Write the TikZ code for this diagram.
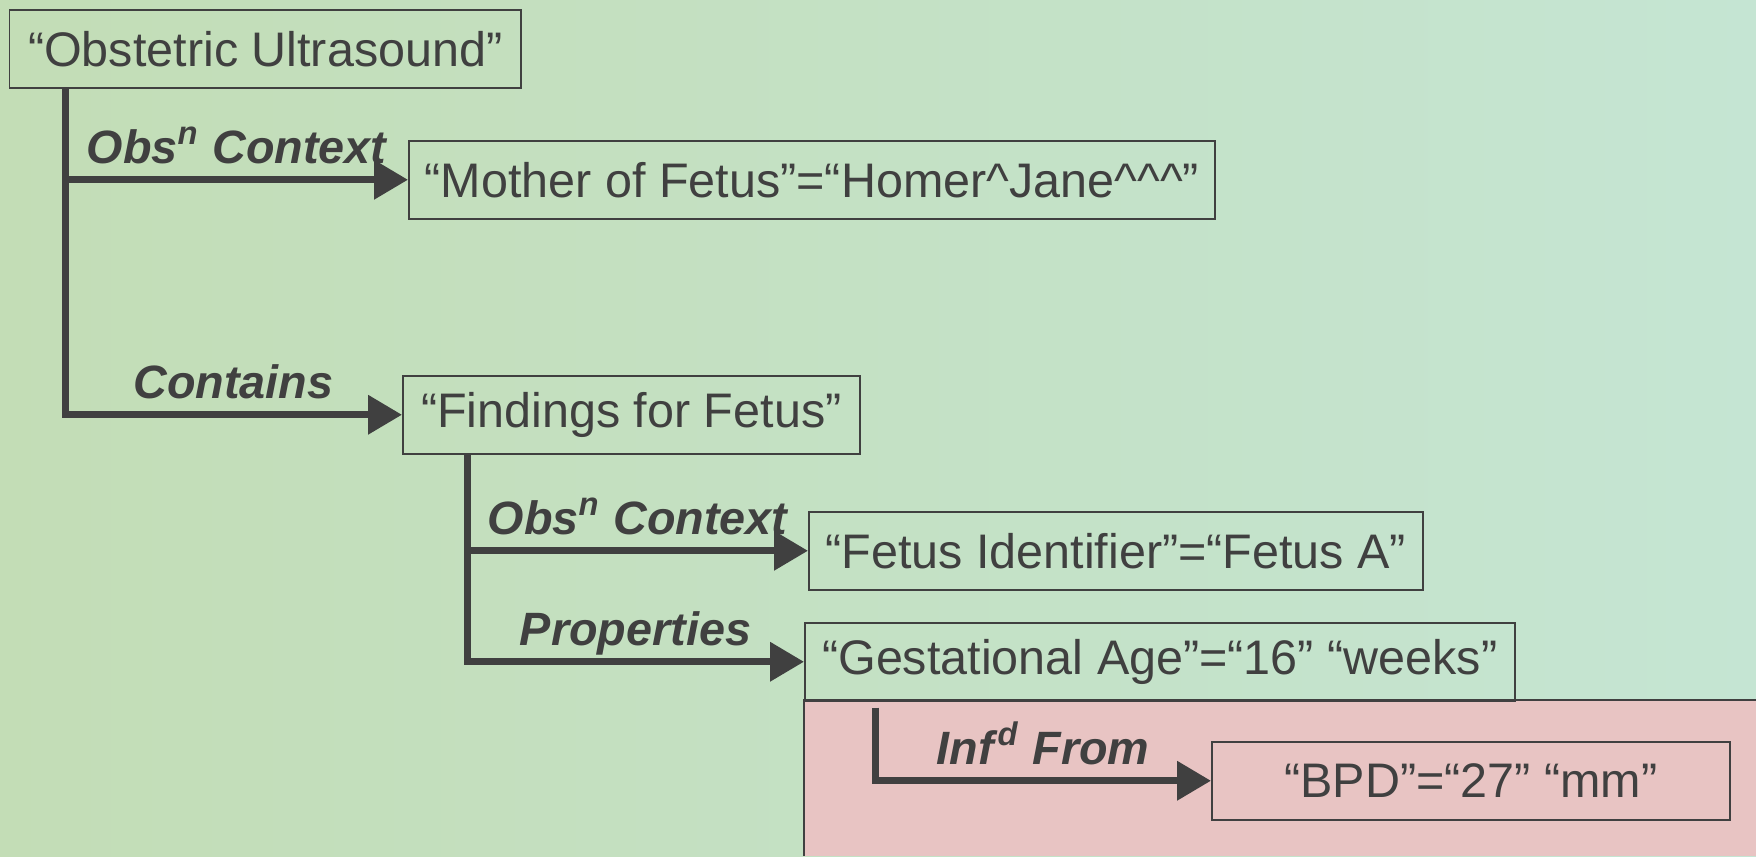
\documentclass[tikz,border=0pt]{standalone}
\usepackage{fontspec}
\setmainfont{Liberation Sans}
\usetikzlibrary{arrows.meta,positioning}
\definecolor{ink}{HTML}{404040}
\definecolor{bgleft}{HTML}{C3DDB6}
\definecolor{bgright}{HTML}{C5E5D3}
\definecolor{pinkbg}{HTML}{E8C4C3}
\tikzset{%
  term/.style={draw=ink,line width=0.15mm,text=ink,minimum height=7.8mm,inner xsep=1.6mm,
    anchor=north west,font=\fontsize{13.8}{16.5}\selectfont},
  link/.style={draw=ink,line width=0.7mm,-{Triangle[length=3.4mm,width=3.8mm]}},
  rel/.style={above,text=ink,text depth=0pt,inner sep=1.3mm,
    font=\fontsize{13.3}{16}\selectfont\bfseries\itshape}
}
\begin{document}
\begin{tikzpicture}[x=0.1mm,y=-0.1mm]

        \useasboundingbox (0,0) rectangle (1756,856);
        \shade[left color=bgleft,right color=bgright] (0,0) rectangle (1756,856); % Background

        % Inferred region
        \fill[pinkbg] (804,700) rectangle (1756,856);
        \draw[ink,line width=0.15mm] (1756,700) -- (804,700) -- (804,856);

        % Content items
        \node[term,minimum width=51.1mm] (US) at (9,9) {“Obstetric Ultrasound”};
        \node[term,minimum width=80.6mm] (Mother) at (408,140) {“Mother of Fetus”=“Homer\textasciicircum Jane\textasciicircum\textasciicircum\textasciicircum”};
        \node[term,minimum width=45.7mm] (Find) at (402,375) {“Findings for Fetus”};
        \node[term,minimum width=61.4mm] (FetID) at (808,511) {“Fetus Identifier”=“Fetus A”};
        \node[term,minimum width=71mm] (GA) at (804,622) {“Gestational Age”=“16” “weeks”};
        \node[term,minimum width=51.8mm] (BPD) at (1211,741) {“BPD”=“27” “mm”};

        % Trunks going down from each parent
        \coordinate (t1) at ([xshift=5.6mm]US.south west);
        \coordinate (t2) at ([xshift=6.5mm]Find.south west);
        \coordinate (t3) at ([xshift=7.1mm,yshift=-0.6mm]GA.south west);

        \draw[link] (t1) |- (Find.west) node[pos=.75,rel] {Contains};
        \draw[link] (t1 |- Mother.west) -- (Mother.west) node[midway,rel] {Obs\textsuperscript{n} Context};

        \draw[link] (t2) |- (GA.west) node[pos=.75,rel] {Properties};
        \draw[link] (t2 |- FetID.west) -- (FetID.west) node[midway,rel] {Obs\textsuperscript{n} Context};

        \draw[link] (t3) |- (BPD.west) node[pos=.75,rel] {Inf\/\textsuperscript{d} From};

\end{tikzpicture}
\end{document}
